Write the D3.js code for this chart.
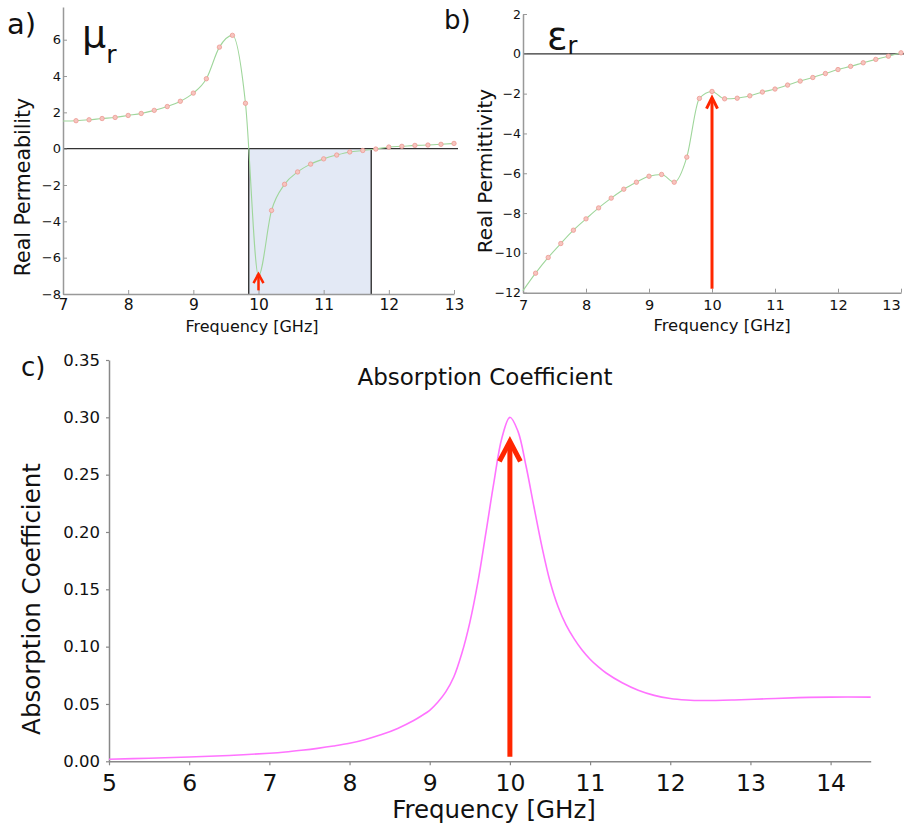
<!DOCTYPE html>
<html lang="en">
<head>
<meta charset="utf-8">
<title>Permeability, permittivity and absorption</title>
<script src="https://d3js.org/d3.v7.min.js"></script>
<style>
  body { margin: 0; background: #fff; }
  svg text { font-family: "DejaVu Sans", sans-serif; fill: #111; }
</style>
</head>
<body>
<script>
var width = 904, height = 828;

// sample frequencies for panels a and b (GHz)
var freqs = [7.0, 7.2, 7.4, 7.6, 7.8, 8.0, 8.2, 8.4, 8.6, 8.8, 9.0, 9.2, 9.4, 9.6, 9.8,
             10.0, 10.2, 10.4, 10.6, 10.8, 11.0, 11.2, 11.4, 11.6, 11.8, 12.0, 12.2, 12.4, 12.6, 12.8, 13.0];
var muReal = [1.52, 1.54, 1.59, 1.66, 1.72, 1.83, 1.94, 2.11, 2.32, 2.61, 3.06, 3.85, 5.59, 6.24, 2.50,
              -7.00, -3.40, -1.96, -1.28, -0.85, -0.56, -0.35, -0.18, -0.10, -0.02, 0.09, 0.13, 0.18, 0.20, 0.24, 0.29];
var epsReal = [-11.9, -11.02, -10.23, -9.53, -8.86, -8.29, -7.74, -7.25, -6.80, -6.45, -6.15, -6.06, -6.45, -5.19, -2.24,
               -1.89, -2.26, -2.23, -2.11, -1.92, -1.77, -1.57, -1.37, -1.19, -0.99, -0.79, -0.63, -0.45, -0.28, -0.12, 0.05];
var negBand = [9.85, 11.73];          // region where mu < 0
var abTicksX = [7, 8, 9, 10, 11, 12, 13];
var muTicks = [-8, -6, -4, -2, 0, 2, 4, 6];
var epsTicks = [-12, -10, -8, -6, -4, -2, 0, 2];

// panel c
var absFreqs = [5.0, 5.5, 6.0, 6.5, 7.0, 7.2, 7.4, 7.6, 7.8, 8.0, 8.2, 8.4, 8.6, 8.8, 8.9, 9.0, 9.1, 9.2, 9.3, 9.4, 9.5,
                9.6, 9.7, 9.8, 9.9, 10.0, 10.1, 10.2, 10.3, 10.4, 10.5, 10.6, 10.7, 10.8, 10.9, 11.0, 11.1, 11.2,
                11.4, 11.6, 11.8, 12.0, 12.2, 12.4, 12.8, 13.2, 13.6, 14.0, 14.5];
var absCoef = [0.0018, 0.0027, 0.0037, 0.0051, 0.0070, 0.0081, 0.0096, 0.0113, 0.0133, 0.0157, 0.0191, 0.0233,
               0.0287, 0.0356, 0.0398, 0.0445, 0.0515, 0.0605, 0.0735, 0.0940, 0.1210, 0.1560, 0.1990, 0.2430, 0.2820,
               0.3000, 0.2880, 0.2580, 0.2220, 0.1870, 0.1570, 0.1350, 0.1190, 0.1070, 0.0970, 0.0890, 0.0825,
               0.0770, 0.0685, 0.0620, 0.0575, 0.0548, 0.0535, 0.0530, 0.0535, 0.0545, 0.0555, 0.0560, 0.0560];
var cTicksX = [5, 6, 7, 8, 9, 10, 11, 12, 13, 14];
var cTicksY = [0, 0.05, 0.10, 0.15, 0.20, 0.25, 0.30, 0.35];

// resonance arrows: frequency, from value, to value
var arrowA = [10, -7.8, -6.9];
var arrowB = [10, -11.8, -2.2];
var arrowC = [10, 0.004, 0.279];

var red = '#ff2600';

var svg = d3.select('body').append('svg')
  .attr('width', width)
  .attr('height', height);

function arrow(g, x, y, a, head, w) {
  var px = x(a[0]), y0 = y(a[1]), y1 = y(a[2]);
  g.append('line')
    .attr('x1', px).attr('x2', px).attr('y1', y0).attr('y2', y1 + w / 2)
    .attr('stroke', red).attr('stroke-width', w);
  g.append('path')
    .attr('d', 'M' + (px - head[0]) + ',' + (y1 + head[1]) + 'L' + px + ',' + y1 + 'L' + (px + head[0]) + ',' + (y1 + head[1]))
    .attr('fill', 'none').attr('stroke', red).attr('stroke-width', w)
    .attr('stroke-linejoin', 'miter');
}

function smallPanel(o) {
  var x = d3.scaleLinear().domain([7, 13]).range(o.xRange);
  var y = d3.scaleLinear().domain(o.yDomain).range(o.yRange);
  var g = svg.append('g');

  if (o.band) {
    g.append('rect')
      .attr('x', x(o.band[0])).attr('y', y(0))
      .attr('width', x(o.band[1]) - x(o.band[0]))
      .attr('height', y(o.yDomain[0]) - y(0))
      .attr('fill', '#e3e9f5');
  }

  // zero line
  g.append('line')
    .attr('x1', o.xRange[0]).attr('x2', o.zeroEnd)
    .attr('y1', y(0)).attr('y2', y(0))
    .attr('stroke', '#333').attr('stroke-width', 1.3);

  if (o.band) {
    o.band.forEach(function(b) {
      g.append('line')
        .attr('x1', x(b)).attr('x2', x(b))
        .attr('y1', y(0)).attr('y2', y(o.yDomain[0]))
        .attr('stroke', '#333').attr('stroke-width', 1.4);
    });
  }

  var xa = g.append('g')
    .attr('transform', 'translate(0,' + o.yRange[0] + ')')
    .call(d3.axisBottom(x).tickValues(abTicksX).tickSizeInner(-4).tickSizeOuter(0)
      .tickPadding(o.xPad).tickFormat(d3.format('d')));
  xa.selectAll('text').style('font-size', o.xFont + 'px').style('font-family', '"DejaVu Sans", sans-serif').attr('fill', '#111');
  // keep the last label inside the page
  xa.selectAll('text').filter(function(d) { return x(d) > width - 12; }).attr('dx', -(x(13) + 13 - width));

  var ya = g.append('g')
    .attr('transform', 'translate(' + o.xRange[0] + ',0)')
    .call(d3.axisLeft(y).tickValues(o.yTicks).tickSizeInner(-4).tickSizeOuter(0)
      .tickPadding(2).tickFormat(d3.format('d')));
  ya.selectAll('text').style('font-size', o.yFont + 'px').style('font-family', '"DejaVu Sans", sans-serif').attr('fill', '#111');

  g.selectAll('.domain').attr('stroke', '#999').attr('stroke-width', 1.5);
  g.selectAll('.tick line').attr('stroke', '#999');

  var data = freqs.map(function(f, i) { return {f: f, v: o.values[i]}; });

  g.append('path')
    .datum(data)
    .attr('d', d3.line().x(function(d) { return x(d.f); }).y(function(d) { return y(d.v); })
      .curve(d3.curveMonotoneX))
    .attr('fill', 'none')
    .attr('stroke', '#9fd69b')
    .attr('stroke-width', 1.1);

  g.selectAll('circle.pt')
    .data(data.slice(1))
    .join('circle')
    .attr('class', 'pt')
    .attr('cx', function(d) { return x(d.f); })
    .attr('cy', function(d) { return y(d.v); })
    .attr('r', 2.2)
    .attr('fill', '#f7c4bf')
    .attr('stroke', '#ec9a93')
    .attr('stroke-width', 0.8);

  arrow(g, x, y, o.arrow, o.head, o.arrowW);

  // labels
  g.append('text').attr('x', o.tag[0]).attr('y', o.tag[1]).style('font-size', o.tagFont + 'px').text(o.tagText);
  var sym = g.append('text').attr('x', o.sym[0]).attr('y', o.sym[1]);
  sym.append('tspan').style('font-size', o.sym[2] + 'px').text(o.symText);
  sym.append('tspan').attr('dy', o.sym[3]).style('font-size', o.sym[4] + 'px').text('r');

  g.append('text')
    .attr('transform', 'translate(' + o.yLab[0] + ',' + o.yLab[1] + ') rotate(-90)')
    .attr('text-anchor', 'middle')
    .style('font-size', o.yLab[2] + 'px')
    .text(o.yLabText);

  g.append('text')
    .attr('x', o.xLab[0]).attr('y', o.xLab[1])
    .attr('text-anchor', 'middle')
    .style('font-size', o.xLab[2] + 'px')
    .text('Frequency [GHz]');
}

// a) permeability
smallPanel({
  xRange: [63, 454], yDomain: [-8, 7.8], yRange: [294, 7], zeroEnd: 458,
  values: muReal, yTicks: muTicks, band: negBand,
  xPad: 5, xFont: 15.5, yFont: 13,
  arrow: arrowA, head: [5, 9], arrowW: 2.5,
  tag: [7, 34], tagFont: 29, tagText: 'a)',
  sym: [82, 47, 38, 16, 25], symText: 'μ',
  yLab: [30, 187, 20.5], yLabText: 'Real Permeability',
  xLab: [252, 332, 16]
});

// b) permittivity
smallPanel({
  xRange: [523, 901], yDomain: [-12, 2], yRange: [292.7, 14], zeroEnd: 904,
  values: epsReal, yTicks: epsTicks, band: null,
  xPad: 7, xFont: 14.5, yFont: 12.5,
  arrow: arrowB, head: [5.5, 11], arrowW: 3,
  tag: [444, 29], tagFont: 26, tagText: 'b)',
  sym: [547, 49, 38, 5, 24], symText: 'ε',
  yLab: [492, 171, 20], yLabText: 'Real Permittivity',
  xLab: [722, 331, 16.5]
});

// c) absorption coefficient
(function() {
  var x = d3.scaleLinear().domain([5, 14.5]).range([109, 870.7]);
  var y = d3.scaleLinear().domain([0, 0.35]).range([761.3, 360]);
  var g = svg.append('g');

  var xa = g.append('g')
    .attr('transform', 'translate(0,761.3)')
    .call(d3.axisBottom(x).tickValues(cTicksX).tickSizeInner(4).tickSizeOuter(0)
      .tickPadding(9).tickFormat(d3.format('d')));
  xa.selectAll('text').style('font-size', '23.5px').style('font-family', '"DejaVu Sans", sans-serif').attr('fill', '#111');

  var ya = g.append('g')
    .attr('transform', 'translate(109,0)')
    .call(d3.axisLeft(y).tickValues(cTicksY).tickSizeInner(3).tickSizeOuter(0)
      .tickPadding(6).tickFormat(d3.format('.2f')));
  ya.selectAll('text').style('font-size', '16.5px').style('font-family', '"DejaVu Sans", sans-serif').attr('fill', '#111');

  g.selectAll('.domain').attr('stroke', '#888').attr('stroke-width', 1.5);
  g.selectAll('.tick line').attr('stroke', '#888').attr('stroke-width', 1.2);

  var data = absFreqs.map(function(f, i) { return {f: f, v: absCoef[i]}; });
  g.append('path')
    .datum(data)
    .attr('d', d3.line().x(function(d) { return x(d.f); }).y(function(d) { return y(d.v); })
      .curve(d3.curveCatmullRom.alpha(0.5)))
    .attr('fill', 'none')
    .attr('stroke', '#ff73ff')
    .attr('stroke-width', 1.6);

  arrow(g, x, y, arrowC, [10.5, 20], 5);

  g.append('text').attr('x', 21).attr('y', 376).style('font-size', '26px').text('c)');
  g.append('text').attr('x', 485).attr('y', 385).attr('text-anchor', 'middle')
    .style('font-size', '23px').text('Absorption Coefficient');
  g.append('text')
    .attr('transform', 'translate(40,599) rotate(-90)')
    .attr('text-anchor', 'middle')
    .style('font-size', '24.5px')
    .text('Absorption Coefficient');
  g.append('text').attr('x', 494).attr('y', 818).attr('text-anchor', 'middle')
    .style('font-size', '24.5px').text('Frequency [GHz]');
})();
</script>
</body>
</html>
